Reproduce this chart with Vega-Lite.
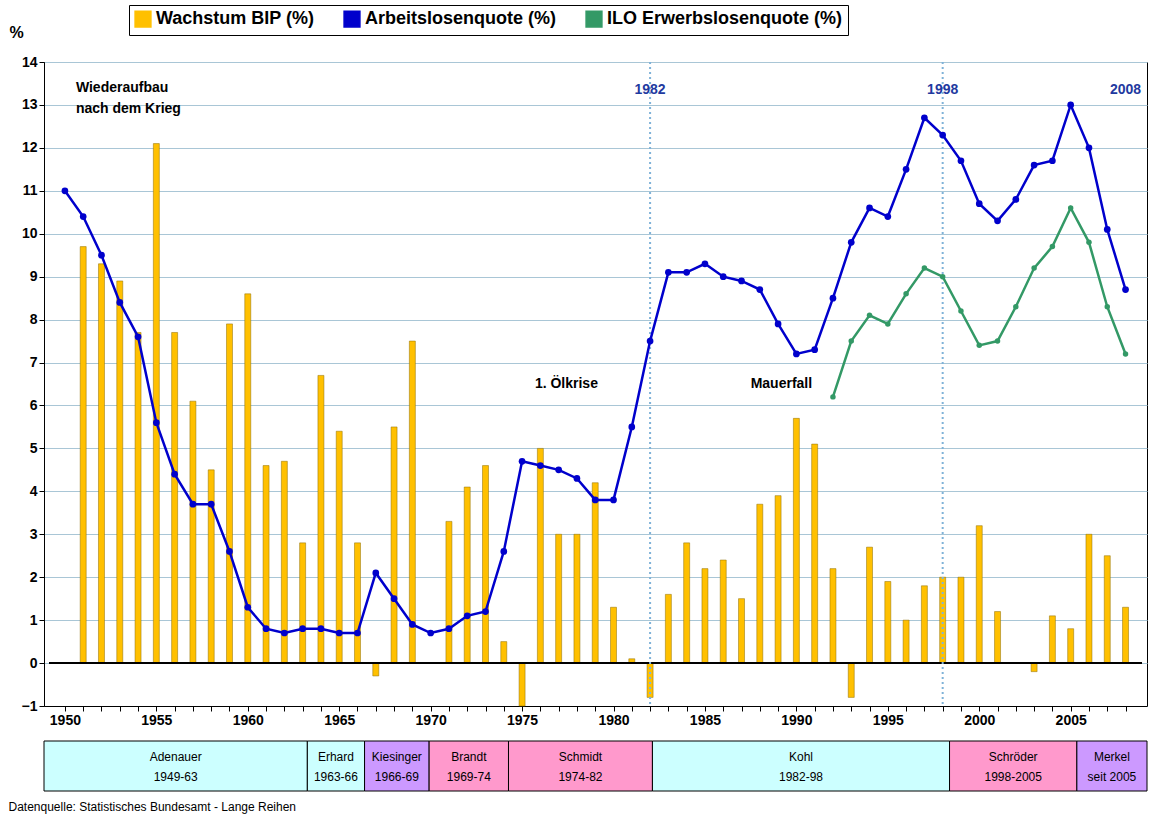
{
  "$schema": "https://vega.github.io/schema/vega-lite/v6.json",
  "background": "white",
  "padding": {"left": 8, "top": 4, "right": 20, "bottom": 2},
  "config": {
    "font": "Liberation Sans",
    "view": {"stroke": "black"},
    "axis": {"labelFont": "Liberation Sans", "labelFontSize": 14, "labelFontWeight": "bold", "labelColor": "black", "domainColor": "black", "tickColor": "black"}
  },
  "datasets": {
    "main": [
      {"year": 1950, "bip": null, "alq": 11.0, "ilo": null},
      {"year": 1951, "bip": 9.7, "alq": 10.4, "ilo": null},
      {"year": 1952, "bip": 9.3, "alq": 9.5, "ilo": null},
      {"year": 1953, "bip": 8.9, "alq": 8.4, "ilo": null},
      {"year": 1954, "bip": 7.7, "alq": 7.6, "ilo": null},
      {"year": 1955, "bip": 12.1, "alq": 5.6, "ilo": null},
      {"year": 1956, "bip": 7.7, "alq": 4.4, "ilo": null},
      {"year": 1957, "bip": 6.1, "alq": 3.7, "ilo": null},
      {"year": 1958, "bip": 4.5, "alq": 3.7, "ilo": null},
      {"year": 1959, "bip": 7.9, "alq": 2.6, "ilo": null},
      {"year": 1960, "bip": 8.6, "alq": 1.3, "ilo": null},
      {"year": 1961, "bip": 4.6, "alq": 0.8, "ilo": null},
      {"year": 1962, "bip": 4.7, "alq": 0.7, "ilo": null},
      {"year": 1963, "bip": 2.8, "alq": 0.8, "ilo": null},
      {"year": 1964, "bip": 6.7, "alq": 0.8, "ilo": null},
      {"year": 1965, "bip": 5.4, "alq": 0.7, "ilo": null},
      {"year": 1966, "bip": 2.8, "alq": 0.7, "ilo": null},
      {"year": 1967, "bip": -0.3, "alq": 2.1, "ilo": null},
      {"year": 1968, "bip": 5.5, "alq": 1.5, "ilo": null},
      {"year": 1969, "bip": 7.5, "alq": 0.9, "ilo": null},
      {"year": 1970, "bip": null, "alq": 0.7, "ilo": null},
      {"year": 1971, "bip": 3.3, "alq": 0.8, "ilo": null},
      {"year": 1972, "bip": 4.1, "alq": 1.1, "ilo": null},
      {"year": 1973, "bip": 4.6, "alq": 1.2, "ilo": null},
      {"year": 1974, "bip": 0.5, "alq": 2.6, "ilo": null},
      {"year": 1975, "bip": -1.0, "alq": 4.7, "ilo": null},
      {"year": 1976, "bip": 5.0, "alq": 4.6, "ilo": null},
      {"year": 1977, "bip": 3.0, "alq": 4.5, "ilo": null},
      {"year": 1978, "bip": 3.0, "alq": 4.3, "ilo": null},
      {"year": 1979, "bip": 4.2, "alq": 3.8, "ilo": null},
      {"year": 1980, "bip": 1.3, "alq": 3.8, "ilo": null},
      {"year": 1981, "bip": 0.1, "alq": 5.5, "ilo": null},
      {"year": 1982, "bip": -0.8, "alq": 7.5, "ilo": null},
      {"year": 1983, "bip": 1.6, "alq": 9.1, "ilo": null},
      {"year": 1984, "bip": 2.8, "alq": 9.1, "ilo": null},
      {"year": 1985, "bip": 2.2, "alq": 9.3, "ilo": null},
      {"year": 1986, "bip": 2.4, "alq": 9.0, "ilo": null},
      {"year": 1987, "bip": 1.5, "alq": 8.9, "ilo": null},
      {"year": 1988, "bip": 3.7, "alq": 8.7, "ilo": null},
      {"year": 1989, "bip": 3.9, "alq": 7.9, "ilo": null},
      {"year": 1990, "bip": 5.7, "alq": 7.2, "ilo": null},
      {"year": 1991, "bip": 5.1, "alq": 7.3, "ilo": null},
      {"year": 1992, "bip": 2.2, "alq": 8.5, "ilo": 6.2},
      {"year": 1993, "bip": -0.8, "alq": 9.8, "ilo": 7.5},
      {"year": 1994, "bip": 2.7, "alq": 10.6, "ilo": 8.1},
      {"year": 1995, "bip": 1.9, "alq": 10.4, "ilo": 7.9},
      {"year": 1996, "bip": 1.0, "alq": 11.5, "ilo": 8.6},
      {"year": 1997, "bip": 1.8, "alq": 12.7, "ilo": 9.2},
      {"year": 1998, "bip": 2.0, "alq": 12.3, "ilo": 9.0},
      {"year": 1999, "bip": 2.0, "alq": 11.7, "ilo": 8.2},
      {"year": 2000, "bip": 3.2, "alq": 10.7, "ilo": 7.4},
      {"year": 2001, "bip": 1.2, "alq": 10.3, "ilo": 7.5},
      {"year": 2002, "bip": 0.0, "alq": 10.8, "ilo": 8.3},
      {"year": 2003, "bip": -0.2, "alq": 11.6, "ilo": 9.2},
      {"year": 2004, "bip": 1.1, "alq": 11.7, "ilo": 9.7},
      {"year": 2005, "bip": 0.8, "alq": 13.0, "ilo": 10.6},
      {"year": 2006, "bip": 3.0, "alq": 12.0, "ilo": 9.8},
      {"year": 2007, "bip": 2.5, "alq": 10.1, "ilo": 8.3},
      {"year": 2008, "bip": 1.3, "alq": 8.7, "ilo": 7.2}
    ],
    "kanzler": [
      {"start": 1949.13, "end": 1963.4, "label": "Adenauer\n1949-63", "c": "a"},
      {"start": 1963.4, "end": 1966.5, "label": "Erhard\n1963-66", "c": "a"},
      {"start": 1966.5, "end": 1970.0, "label": "Kiesinger\n1966-69", "c": "b"},
      {"start": 1970.0, "end": 1974.3, "label": "Brandt\n1969-74", "c": "c"},
      {"start": 1974.3, "end": 1982.1, "label": "Schmidt\n1974-82", "c": "c"},
      {"start": 1982.1, "end": 1998.2, "label": "Kohl\n1982-98", "c": "a"},
      {"start": 1998.2, "end": 2005.1, "label": "Schröder\n1998-2005", "c": "c"},
      {"start": 2005.1, "end": 2008.9, "label": "Merkel\nseit 2005", "c": "b"}
    ],
    "marks": [
      {"year": 1982, "label": "1982"},
      {"year": 1998, "label": "1998"},
      {"year": 2008, "label": "2008"}
    ],
    "notes": [
      {"year": 1950.6, "y": 13.4, "label": "Wiederaufbau"},
      {"year": 1950.6, "y": 12.9, "label": "nach dem Krieg"},
      {"year": 1975.7, "y": 6.5, "label": "1. Ölkrise"},
      {"year": 1987.5, "y": 6.5, "label": "Mauerfall"}
    ]
  },
  "vconcat": [
    {
      "width": 1103,
      "height": 644,
      "data": {"name": "main"},
      "encoding": {
        "x": {"field": "year", "type": "quantitative", "scale": {"domain": [1949.13, 2008.9], "nice": false, "zero": false},
          "axis": {"title": null, "values": [1950,1951,1952,1953,1954,1955,1956,1957,1958,1959,1960,1961,1962,1963,1964,1965,1966,1967,1968,1969,1970,1971,1972,1973,1974,1975,1976,1977,1978,1979,1980,1981,1982,1983,1984,1985,1986,1987,1988,1989,1990,1991,1992,1993,1994,1995,1996,1997,1998,1999,2000,2001,2002,2003,2004,2005,2006,2007,2008],
            "labelExpr": "datum.value % 5 == 0 ? datum.value : ''", "format": "d", "grid": false, "tickSize": 5, "labelOverlap": false}}
      },
      "layer": [
        {
          "mark": {"type": "bar", "width": 6, "stroke": "#8c6d00", "strokeWidth": 0.5},
          "transform": [{"filter": "datum.bip != null"}],
          "encoding": {
            "y": {"field": "bip", "type": "quantitative", "scale": {"domain": [-1, 14], "nice": false},
              "axis": {"title": "%", "titleAngle": 0, "titleFontSize": 16, "titleFontWeight": "bold", "titleX": -28, "titleY": -22, "labelOverlap": false, "values": [-1,0,1,2,3,4,5,6,7,8,9,10,11,12,13,14], "gridColor": "#a9c6d6"}},
            "y2": {"datum": 0},
            "color": {"datum": "Wachstum BIP (%)", "type": "nominal",
              "scale": {"domain": ["Wachstum BIP (%)", "Arbeitslosenquote (%)", "ILO Erwerbslosenquote (%)"], "range": ["#ffc000", "#0000cc", "#339966"]},
              "legend": {"title": null, "orient": "none", "legendX": 85, "legendY": -57, "direction": "horizontal", "labelFontSize": 18, "labelFontWeight": "bold", "symbolSize": 250, "symbolType": "square", "strokeColor": "black", "padding": 5, "columnPadding": 26, "labelLimit": 400}}
          }
        },
        {
          "mark": {"type": "rule", "color": "black", "strokeWidth": 1.5},
          "encoding": {"y": {"datum": 0}, "x": {"datum": 1949.13}, "x2": {"datum": 2008.9}}
        },
        {
          "data": {"values": [{"year": 1982}, {"year": 1998}]},
          "mark": {"type": "rule", "color": "#7fb2d8", "strokeWidth": 2, "strokeDash": [2, 3]},
          "encoding": {"x": {"field": "year", "type": "quantitative"}}
        },
        {
          "mark": {"type": "line", "strokeWidth": 2.5, "point": {"filled": true, "size": 45}},
          "encoding": {
            "y": {"field": "alq", "type": "quantitative"},
            "color": {"datum": "Arbeitslosenquote (%)", "type": "nominal"}
          }
        },
        {
          "transform": [{"filter": "datum.ilo != null"}],
          "mark": {"type": "line", "strokeWidth": 2.5, "point": {"filled": true, "size": 30}},
          "encoding": {
            "y": {"field": "ilo", "type": "quantitative"},
            "color": {"datum": "ILO Erwerbslosenquote (%)", "type": "nominal"}
          }
        },
        {
          "data": {"name": "marks"},
          "mark": {"type": "text", "color": "#1f3aa0", "fontSize": 14, "fontWeight": "bold"},
          "encoding": {
            "x": {"field": "year", "type": "quantitative"},
            "y": {"datum": 13.35},
            "text": {"field": "label"}
          }
        },
        {
          "data": {"name": "notes"},
          "mark": {"type": "text", "align": "left", "fontSize": 14, "fontWeight": "bold", "color": "black"},
          "encoding": {
            "x": {"field": "year", "type": "quantitative"},
            "y": {"field": "y", "type": "quantitative"},
            "text": {"field": "label"}
          }
        }
      ]
    },
    {
      "width": 1103,
      "height": 50,
      "view": {"stroke": null},
      "data": {"name": "kanzler"},
      "title": {"text": "Datenquelle: Statistisches Bundesamt - Lange Reihen", "orient": "bottom", "anchor": "start", "fontSize": 12, "fontWeight": "normal", "offset": 10, "dx": -35},
      "layer": [
        {
          "mark": {"type": "rect", "stroke": "black", "strokeWidth": 1},
          "encoding": {
            "x": {"field": "start", "type": "quantitative", "scale": {"domain": [1949.13, 2008.9], "nice": false, "zero": false}, "axis": null},
            "x2": {"field": "end"},
            "fill": {"field": "c", "type": "nominal", "scale": {"domain": ["a", "b", "c"], "range": ["#ccffff", "#cc99ff", "#ff99cc"]}, "legend": null}
          }
        },
        {
          "transform": [{"calculate": "(datum.start + datum.end) / 2", "as": "mid"}],
          "mark": {"type": "text", "fontSize": 12, "lineBreak": "\n", "lineHeight": 20, "baseline": "middle", "dy": -9},
          "encoding": {
            "x": {"field": "mid", "type": "quantitative"},
            "y": {"value": 25},
            "text": {"field": "label"}
          }
        }
      ]
    }
  ],
  "spacing": 12
}
